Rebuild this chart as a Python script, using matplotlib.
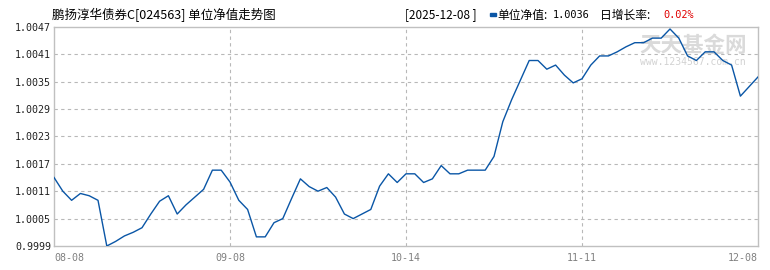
import matplotlib
matplotlib.use("Agg")
import matplotlib.pyplot as plt
from matplotlib.patches import Rectangle

plt.rcParams['font.family'] = ['Noto Sans CJK SC', 'DejaVu Sans']
MONO = ['DejaVu Sans Mono', 'Noto Sans CJK SC']

# unit NAV, one value per trading day (08-08 .. 12-08)
nav = [1.0014, 1.0011, 1.0009, 1.00105, 1.0010, 1.0009, 0.9999, 1.0000, 1.00012, 1.0002,
       1.0003, 1.0006, 1.00088, 1.0010, 1.0006, 1.0008, 1.00097, 1.00114, 1.00156, 1.00156,
       1.0013, 1.0009, 1.0007, 1.0001, 1.0001, 1.00041, 1.0005, 1.00094, 1.00137, 1.0012,
       1.0011, 1.00118, 1.00097, 1.0006, 1.0005, 1.0006, 1.0007, 1.00121, 1.00148, 1.00129,
       1.00148, 1.00148, 1.00129, 1.00137, 1.00166, 1.00148, 1.00148, 1.00156, 1.00156, 1.00156,
       1.00186, 1.00262, 1.0031, 1.00353, 1.00396, 1.00396, 1.00377, 1.00386, 1.00364, 1.00347,
       1.00356, 1.00386, 1.00406, 1.00406, 1.00415, 1.00426, 1.00435, 1.00435, 1.00445, 1.00445,
       1.00465, 1.00445, 1.00406, 1.00396, 1.00415, 1.00415, 1.00396, 1.00386, 1.00318, 1.00339,
       1.0036]

tick_pos = [0, 20, 40, 60, 80]
tick_labels = ["08-08", "09-08", "10-14", "11-11", "12-08"]
y_ticks = [0.9999, 1.0005, 1.0011, 1.0017, 1.0023, 1.0029, 1.0035, 1.0041, 1.0047]

title = "鹏扬淳华债券C[024563] 单位净值走势图"
last_date = "2025-12-08"
last_nav = "1.0036"
day_growth = "0.02%"

W, H = 770, 270
fig = plt.figure(figsize=(W / 100, H / 100), dpi=100)
ax = fig.add_axes([54 / W, 24 / H, 704 / W, 219.3 / H])

ax.plot(range(len(nav)), nav, color='#0a56a6', lw=1, zorder=3)
ax.set_xlim(0, len(nav) - 1)
ax.set_ylim(y_ticks[0], y_ticks[-1])

ax.set_yticks(y_ticks)
ax.set_yticklabels(["%.4f" % v for v in y_ticks], fontsize=7.2, color='#222222', family=MONO)
ax.set_xticks(tick_pos)
xt = ax.set_xticklabels(tick_labels, fontsize=7.2, color='#808080', family=MONO)
xt[0].set_horizontalalignment('left')
xt[-1].set_horizontalalignment('right')
ax.tick_params(axis='y', length=0, pad=2)
ax.tick_params(axis='x', length=0, pad=5)

# dashed grid
for v in y_ticks[1:-1]:
    ax.axhline(v, color='#b8b8b8', lw=0.8, ls=(0, (3, 3)), zorder=1)
for p in tick_pos[1:-1]:
    ax.axvline(p, color='#b8b8b8', lw=0.8, ls=(0, (3, 3)), zorder=1)

for s in ax.spines.values():
    s.set_color('#c0c0c0')
    s.set_linewidth(1)

# watermark
ax.text(0.908, 0.912, "天天基金网", transform=ax.transAxes, fontsize=15.5,
        color='#dadada', ha='center', va='center', zorder=2, fontweight='bold')
ax.text(0.908, 0.839, "www.1234567.com.cn", transform=ax.transAxes, fontsize=7,
        color='#d2d2d2', ha='center', va='center', zorder=2, family=MONO)

# header
ty = 1 - 15 / H
fig.text(52 / W, ty, title, fontsize=9, ha='left', va='center')
fig.text(405 / W, ty, "[%s ]" % last_date, fontsize=8.5, ha='left', va='center')
fig.patches.append(Rectangle((490 / W, 1 - 16 / H), 6 / W, 3 / H,
                             transform=fig.transFigure, color='#0a56a6'))
fig.text(497 / W, ty, "单位净值:", fontsize=8.5, ha='left', va='center')
fig.text(553 / W, ty, last_nav, fontsize=7.4, ha='left', va='center', family=MONO)
fig.text(600 / W, ty, "日增长率: ", fontsize=8.5, ha='left', va='center')
fig.text(663 / W, ty, day_growth, fontsize=7.4, ha='left', va='center', color='#e00000',
         family=MONO)

fig.savefig("out.png", dpi=100)
